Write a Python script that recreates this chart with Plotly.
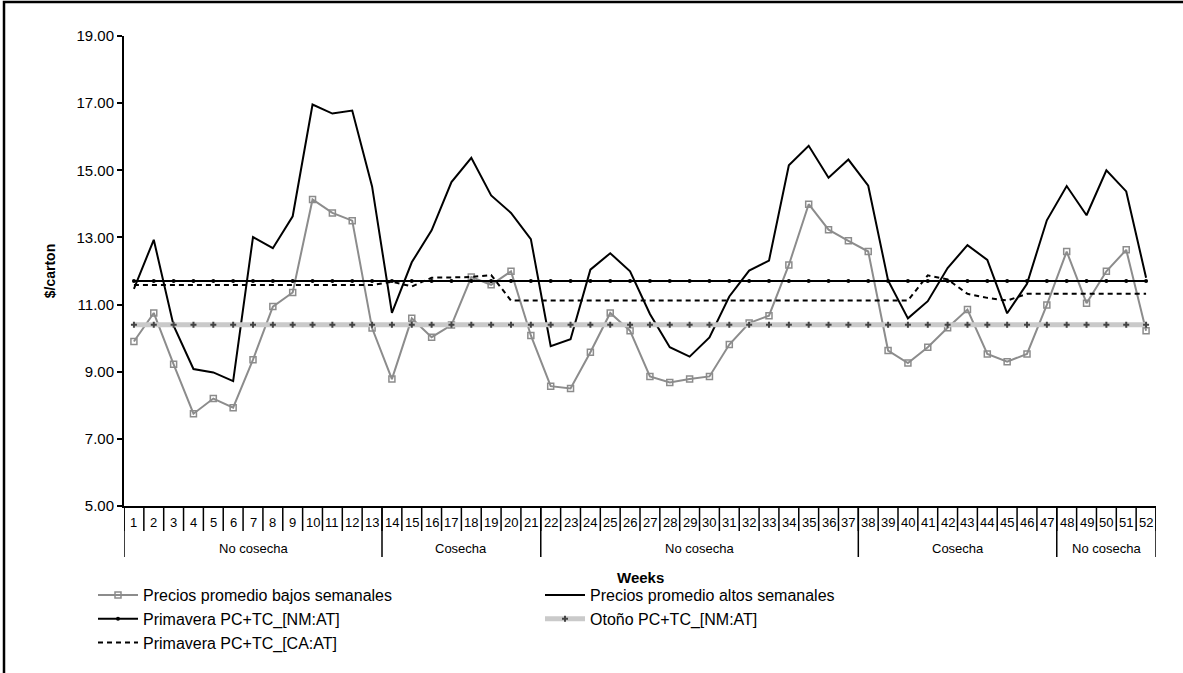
import plotly.graph_objects as go

weeks = list(range(1, 53))
week_labels = [str(w) for w in weeks]

precios_bajos = [9.90, 10.75, 9.22, 7.75, 8.20, 7.93, 9.36, 10.94, 11.36, 14.13,
                 13.73, 13.50, 10.30, 8.78, 10.59, 10.03, 10.39, 11.82, 11.59, 11.99,
                 10.08, 8.57, 8.50, 9.58, 10.75, 10.22, 8.86, 8.68, 8.78, 8.86,
                 9.81, 10.45, 10.67, 12.18, 13.99, 13.23, 12.90, 12.58, 9.63, 9.26,
                 9.73, 10.31, 10.85, 9.53, 9.30, 9.53, 10.99, 12.58, 11.04, 11.99,
                 12.63, 10.22]

precios_altos = [11.47, 12.93, 10.37, 9.08, 8.98, 8.72, 13.01, 12.68, 13.63, 16.96,
                 16.69, 16.78, 14.52, 10.75, 12.26, 13.21, 14.65, 15.37, 14.25, 13.73,
                 12.95, 9.76, 9.97, 12.04, 12.53, 11.99, 10.72, 9.73, 9.45, 10.02,
                 11.24, 12.01, 12.31, 15.15, 15.73, 14.78, 15.32, 14.54, 11.72, 10.59,
                 11.10, 12.09, 12.77, 12.33, 10.74, 11.62, 13.51, 14.53, 13.66, 15.00,
                 14.37, 11.80]

primavera_nm = [11.70, 11.70, 11.70, 11.70, 11.70, 11.70, 11.70, 11.70, 11.70, 11.70,
                11.70, 11.70, 11.70, 11.70, 11.70, 11.70, 11.70, 11.70, 11.70, 11.70,
                11.70, 11.70, 11.70, 11.70, 11.70, 11.70, 11.70, 11.70, 11.70, 11.70,
                11.70, 11.70, 11.70, 11.70, 11.70, 11.70, 11.70, 11.70, 11.70, 11.70,
                11.70, 11.70, 11.70, 11.70, 11.70, 11.70, 11.70, 11.70, 11.70, 11.70,
                11.70, 11.70]

otono_nm = [10.40, 10.40, 10.40, 10.40, 10.40, 10.40, 10.40, 10.40, 10.40, 10.40,
            10.40, 10.40, 10.40, 10.40, 10.40, 10.40, 10.40, 10.40, 10.40, 10.40,
            10.40, 10.40, 10.40, 10.40, 10.40, 10.40, 10.40, 10.40, 10.40, 10.40,
            10.40, 10.40, 10.40, 10.40, 10.40, 10.40, 10.40, 10.40, 10.40, 10.40,
            10.40, 10.40, 10.40, 10.40, 10.40, 10.40, 10.40, 10.40, 10.40, 10.40,
            10.40, 10.40]

primavera_ca = [11.58, 11.58, 11.58, 11.58, 11.58, 11.58, 11.58, 11.58, 11.58, 11.58,
                11.58, 11.58, 11.58, 11.68, 11.54, 11.80, 11.80, 11.82, 11.88, 11.12,
                11.12, 11.12, 11.12, 11.12, 11.12, 11.12, 11.12, 11.12, 11.12, 11.12,
                11.12, 11.12, 11.12, 11.12, 11.12, 11.12, 11.12, 11.12, 11.12, 11.12,
                11.87, 11.75, 11.32, 11.20, 11.12, 11.32, 11.32, 11.32, 11.32, 11.32,
                11.32, 11.32]

group_names = ["No cosecha", "Cosecha", "No cosecha", "Cosecha", "No cosecha"]
group_start = [1, 14, 22, 38, 48]
group_end = [13, 21, 37, 47, 52]

y_ticks = [5, 7, 9, 11, 13, 15, 17, 19]

FONT = "Liberation Sans, Arial, sans-serif"

# figure geometry (pixels)
W, H = 1183, 673
L, R, T, B = 124, 27, 36, 167
PW, PH = W - L - R, H - T - B


def px_x(p):
    return (p - L) / PW


def px_y(p):
    return (H - B - p) / PH


fig = go.Figure()

fig.add_trace(go.Scatter(
    x=weeks, y=precios_bajos, name="Precios promedio bajos semanales",
    mode="lines+markers",
    line=dict(color="#8c8c8c", width=2),
    marker=dict(symbol="square-open", size=6, color="#8c8c8c", line=dict(width=1.5)),
))
fig.add_trace(go.Scatter(
    x=weeks, y=precios_altos, name="Precios promedio altos semanales",
    mode="lines",
    line=dict(color="black", width=2),
))
fig.add_trace(go.Scatter(
    x=weeks, y=primavera_nm, name="Primavera PC+TC_[NM:AT]",
    mode="lines+markers",
    line=dict(color="black", width=2),
    marker=dict(symbol="circle", size=4, color="black"),
))
fig.add_trace(go.Scatter(
    x=weeks, y=otono_nm, name="Otoño PC+TC_[NM:AT]",
    mode="lines+markers",
    line=dict(color="#cacaca", width=5),
    marker=dict(symbol="cross", size=5, color="#444444"),
))
fig.add_trace(go.Scatter(
    x=weeks, y=primavera_ca, name="Primavera PC+TC_[CA:AT]",
    mode="lines",
    line=dict(color="black", width=2, dash="5px,4px"),
))

shapes = []
# week divider lines below the axis
for i in range(len(weeks) + 1):
    shapes.append(dict(type="line", xref="x", yref="paper",
                       x0=i + 0.5, x1=i + 0.5, y0=0, y1=px_y(531),
                       line=dict(color="black", width=1.5)))
# group divider lines
bounds = [group_start[0] - 0.5] + [e + 0.5 for e in group_end]
for b in bounds:
    shapes.append(dict(type="line", xref="x", yref="paper",
                       x0=b, x1=b, y0=0, y1=px_y(557),
                       line=dict(color="black", width=1.5)))
# chart outer border
shapes.append(dict(type="rect", xref="paper", yref="paper",
                   x0=px_x(4), x1=px_x(1230), y0=px_y(2), y1=px_y(720),
                   line=dict(color="black", width=2.5)))

annotations = []
for w, lab in zip(weeks, week_labels):
    annotations.append(dict(x=w, y=px_y(522), xref="x", yref="paper",
                            xanchor="center", yanchor="middle",
                            text=lab, showarrow=False,
                            font=dict(family=FONT, size=13, color="black")))
for name, s, e in zip(group_names, group_start, group_end):
    annotations.append(dict(x=(s + e) / 2, y=px_y(548), xref="x", yref="paper",
                            xanchor="center", yanchor="middle",
                            text=name, showarrow=False,
                            font=dict(family=FONT, size=13, color="black")))
annotations.append(dict(x=0.5, y=px_y(577), xref="paper", yref="paper",
                        xanchor="center", yanchor="middle",
                        text="<b>Weeks</b>", showarrow=False,
                        font=dict(family=FONT, size=15, color="black")))

fig.update_layout(
    width=W, height=H,
    margin=dict(l=L, r=R, t=T, b=B, pad=0),
    paper_bgcolor="white", plot_bgcolor="white",
    font=dict(family=FONT, size=15, color="black"),
    showlegend=True,
    legend=dict(
        orientation="h",
        x=px_x(93), y=px_y(578), xanchor="left", yanchor="top",
        entrywidth=392, entrywidthmode="pixels",
        font=dict(family=FONT, size=16, color="black"),
        bgcolor="rgba(0,0,0,0)", borderwidth=0,
        itemwidth=40,
    ),
    xaxis=dict(
        range=[0.5, 52.5], showgrid=False, zeroline=False,
        showline=True, linecolor="black", linewidth=2,
        showticklabels=False, ticks="",
    ),
    yaxis=dict(
        range=[5, 19], showgrid=False, zeroline=False,
        showline=True, linecolor="black", linewidth=2,
        tickvals=y_ticks, tickformat=".2f",
        ticks="outside", ticklen=5, tickwidth=1.5, tickcolor="black",
        tickfont=dict(family=FONT, size=15, color="black"),
        title=dict(text="<b>$/carton</b>", standoff=18,
                   font=dict(family=FONT, size=14, color="black")),
    ),
    shapes=shapes,
    annotations=annotations,
)

fig.write_html("out.html")
